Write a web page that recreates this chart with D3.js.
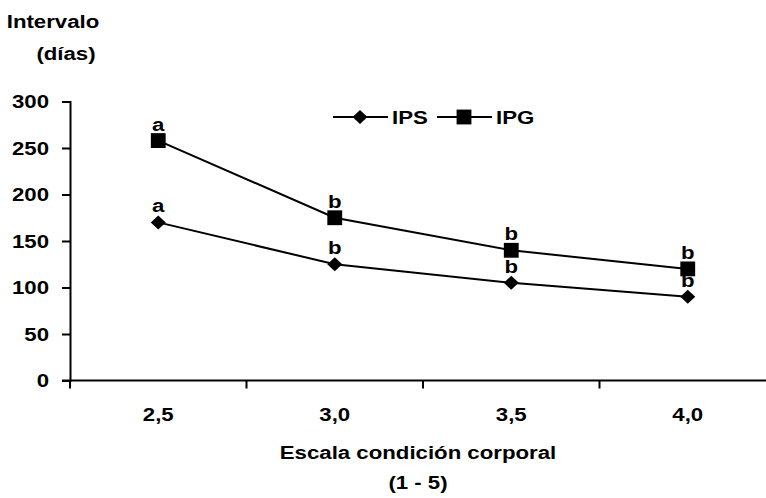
<!DOCTYPE html>
<html>
<head>
<meta charset="utf-8">
<script src="https://cdn.jsdelivr.net/npm/d3@7"></script>
<style>
  body { margin: 0; padding: 0; background: #fff; }
  text { font-family: "Liberation Sans", Arial, sans-serif; font-weight: bold; fill: #000; }
</style>
</head>
<body>
<div id="chart"></div>
<script>
// Data
const categories = ["2,5", "3,0", "3,5", "4,0"];
const ips = [170, 125, 105, 90];
const ipg = [258, 175, 140, 120];
const ipsLetters = ["a", "b", "b", "b"];
const ipgLetters = ["a", "b", "b", "b"];
const yTicks = [0, 50, 100, 150, 200, 250, 300];

const width = 766, height = 498;
const plotLeft = 70, plotRight = 776, plotTop = 101.5, plotBottom = 380.5;
const fontSize = "19px";
const stretch = 1.17; // the original text is a bit wide

const svg = d3.select("#chart").append("svg")
    .attr("width", width)
    .attr("height", height);

// helper: stretched bold text
function label(parent, x, y, str, anchor) {
  return parent.append("text")
      .attr("transform", `translate(${x},${y}) scale(${stretch},1)`)
      .attr("text-anchor", anchor || "middle")
      .style("font-size", fontSize)
      .text(str);
}

const x = d3.scaleBand().domain(categories).range([plotLeft, plotRight]);
const y = d3.scaleLinear().domain([0, 300]).range([plotBottom, plotTop]);

// y axis
const yAxis = svg.append("g")
    .attr("transform", `translate(${plotLeft},0)`)
    .call(d3.axisLeft(y).tickValues(yTicks).tickSize(8).tickPadding(0));
yAxis.selectAll(".tick text")
    .attr("x", -21 / stretch)
    .attr("transform", `scale(${stretch},1)`)
    .style("font-size", fontSize);

// x axis (ticks at band edges)
const xAxis = svg.append("g")
    .attr("transform", `translate(0,${plotBottom})`);
xAxis.append("line")
    .attr("x1", plotLeft - 8).attr("x2", plotRight)
    .attr("stroke", "#000").attr("stroke-width", 2);
xAxis.selectAll(".edge")
    .data(categories)
    .enter().append("line")
    .attr("x1", d => x(d)).attr("x2", d => x(d))
    .attr("y1", 0).attr("y2", 8)
    .attr("stroke", "#000").attr("stroke-width", 2);
categories.forEach(c => label(xAxis, x(c) + x.bandwidth() / 2, 40, c));

svg.selectAll(".domain, .tick line").attr("stroke", "#000").attr("stroke-width", 2);

const cx = d => x(d) + x.bandwidth() / 2;
const line = d3.line().x((d, i) => cx(categories[i])).y(d => y(d));

const diamondType = {
  draw(ctx) {
    ctx.moveTo(0, -7); ctx.lineTo(7.5, 0); ctx.lineTo(0, 7); ctx.lineTo(-7.5, 0); ctx.closePath();
  }
};
const diamond = d3.symbol().type(diamondType);
const square = d3.symbol().type(d3.symbolSquare).size(220);

function drawSeries(vals, letters, sym) {
  svg.append("path")
      .datum(vals)
      .attr("d", line)
      .attr("fill", "none")
      .attr("stroke", "#000")
      .attr("stroke-width", 2);
  svg.selectAll(null)
      .data(vals)
      .enter().append("path")
      .attr("d", sym)
      .attr("transform", (d, i) => `translate(${cx(categories[i])},${y(d)})`);
  vals.forEach((v, i) => label(svg, cx(categories[i]), y(v) - 10, letters[i]));
}
drawSeries(ipg, ipgLetters, square);
drawSeries(ips, ipsLetters, diamond);

// legend
const legend = [
  { name: "IPS", sym: diamond, x: 333 },
  { name: "IPG", sym: square, x: 437 }
];
const lg = svg.append("g").attr("transform", "translate(0,117)");
legend.forEach(l => {
  lg.append("line").attr("x1", l.x).attr("x2", l.x + 55)
      .attr("stroke", "#000").attr("stroke-width", 2);
  lg.append("path").attr("d", l.sym)
      .attr("transform", `translate(${l.x + 27},0)`);
  label(lg, l.x + 59, 7, l.name, "start");
});

// axis titles
label(svg, 53, 28, "Intervalo");
label(svg, 66, 60, "(días)");
label(svg, 418, 459, "Escala condición corporal");
label(svg, 418, 489, "(1 - 5)");
</script>
</body>
</html>
